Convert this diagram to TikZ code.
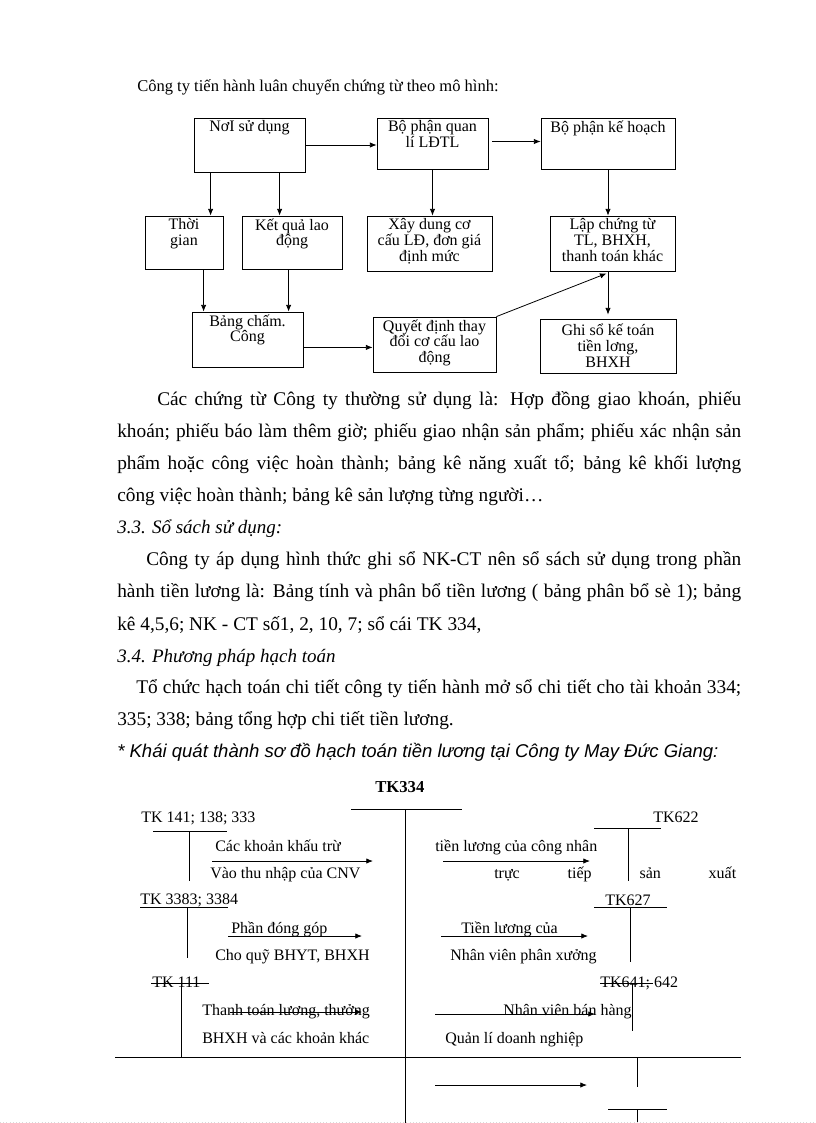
\documentclass[tikz,border=0pt]{standalone}
\usepackage{fontspec}
\setmainfont{Liberation Serif}
\newfontfamily\sansfont{Liberation Sans}
\usetikzlibrary{arrows.meta, calc, fit}

\tikzset{
  flowbox/.style={draw, line width=0.6pt, inner sep=0pt},
  boxtext/.style={font=\fontsize{12}{11.8}\selectfont, align=center, inner sep=0pt, anchor=north},
  bodytext/.style={font=\fontsize{14.5}{17}\selectfont, anchor=base west, inner sep=0pt},
  acctext/.style={font=\fontsize{12}{14}\selectfont, anchor=base west, inner sep=0pt},
  flow/.style={-{Latex[length=5pt,width=4pt]}, line width=0.6pt},
  tacc/.style={line width=0.6pt}
}
\newcommand{\fullline}[2]{\makebox[#1][s]{#2}}

\begin{document}
\begin{tikzpicture}[x=0.75pt, y=-0.75pt]
\useasboundingbox (0,0) rectangle (816,1123);

\node[bodytext, font=\fontsize{12.4}{15}\selectfont] (intro) at (137,92) {Công ty tiến hành luân chuyển chứng từ theo mô hình:};

% flow chart
\node[flowbox, fit={(194,118) (305,172)}] (noi) {};
\node[flowbox, fit={(377,118) (488,169)}] (quan) {};
\node[flowbox, fit={(541,118) (675,169)}] (kh) {};
\node[flowbox, fit={(145,216) (223,269)}] (thoi) {};
\node[flowbox, fit={(242,216) (342,269)}] (kq) {};
\node[flowbox, fit={(367,216) (492,271)}] (xd) {};
\node[flowbox, fit={(550,216) (675,271)}] (lap) {};
\node[flowbox, fit={(192,312) (303,367)}] (bang) {};
\node[flowbox, fit={(373,317) (496,372)}] (qd) {};
\node[flowbox, fit={(540,319) (676,373)}] (ghi) {};

\node[boxtext] (noi-t) at ([yshift=-2pt]noi.north) {NơI sử dụng};
\node[boxtext] (quan-t) at ([yshift=-2pt]quan.north) {Bộ phận quan\\lí LĐTL};
\node[boxtext] (kh-t) at ([yshift=-2pt]kh.north) {Bộ phận kế hoạch};
\node[boxtext] (thoi-t) at ([yshift=-2pt]thoi.north) {Thời\\gian};
\node[boxtext] (kq-t) at ([yshift=-2pt]kq.north) {Kết quả lao\\động};
\node[boxtext] (xd-t) at ([yshift=-2pt]xd.north) {Xây dung cơ\\cấu LĐ, đơn giá\\định mức};
\node[boxtext] (lap-t) at ([yshift=-2pt]lap.north) {Lập chứng từ\\TL, BHXH,\\thanh toán khác};
\node[boxtext] (bang-t) at ([yshift=-2pt]bang.north) {Bảng chấm.\\Công};
\node[boxtext] (qd-t) at ([yshift=-2pt]qd.north) {Quyết định thay\\đổi cơ cấu lao\\động};
\node[boxtext] (ghi-t) at ([yshift=-4pt]ghi.north) {Ghi sổ kế toán\\tiền lơng,\\BHXH};

\draw[flow] (noi.east) -- (noi.east -| quan.west);
\draw[flow] ($(quan.east)+(4,-2)$) -- ($(kh.west)+(0,-2)$);
\draw[flow] ($(noi.south west)+(17,0)$) -- ($(thoi.north west)+(66,0)$);
\draw[flow] ($(noi.south west)+(86,0)$) -- ($(kq.north west)+(38,0)$);
\draw[flow] (quan.south) -- (quan.south |- xd.north);
\draw[flow] (kh.south) -- (kh.south |- lap.north);
\draw[flow] ($(thoi.south west)+(59,0)$) -- ($(bang.north west)+(12,0)$);
\draw[flow] ($(kq.south west)+(47,0)$) -- ($(bang.north west)+(97,0)$);
\draw[flow] ($(bang.south east)+(0,-20)$) -- ($(qd.south west)+(0,-25)$);
\draw[flow] (qd.north east) -- ($(lap.south west)+(57,2)$);
\draw[flow] (lap.south -| ghi.north) -- ($(ghi.north)+(0,-4)$);

% text
\node[bodytext] (p1a) at (157,405) {\fullline{438pt}{Các chứng từ Công ty thường sử dụng là: Hợp đồng giao khoán, phiếu}};
\node[bodytext] (p1b) at (117,437) {\fullline{468pt}{khoán; phiếu báo làm thêm giờ; phiếu giao nhận sản phẩm; phiếu xác nhận sản}};
\node[bodytext] (p1c) at (117,469) {\fullline{468pt}{phẩm hoặc công việc hoàn thành; bảng kê năng xuất tổ; bảng kê khối lượng}};
\node[bodytext] (p1d) at (117,501) {công việc hoàn thành; bảng kê sản lượng từng người…};
\node[bodytext, font=\fontsize{14.25}{17}\selectfont\itshape] (h33) at (117,533) {3.3. Sổ sách sử dụng:};
\node[bodytext] (p2a) at (146,565) {\fullline{446.25pt}{Công ty áp dụng hình thức ghi sổ NK-CT nên sổ sách sử dụng trong phần}};
\node[bodytext] (p2b) at (117,597) {\fullline{468pt}{hành tiền lương là: Bảng tính và phân bổ tiền lương ( bảng phân bổ sè 1); bảng}};
\node[bodytext] (p2c) at (117,630) {kê 4,5,6; NK - CT số1, 2, 10, 7; sổ cái TK 334,};
\node[bodytext, font=\fontsize{14.25}{17}\selectfont\itshape] (h34) at (117,662) {3.4. Phương pháp hạch toán};
\node[bodytext] (p3a) at (136,693) {\fullline{453.75pt}{Tổ chức hạch toán chi tiết công ty tiến hành mở sổ chi tiết cho tài khoản 334;}};
\node[bodytext] (p3b) at (117,725) {335; 338; bảng tổng hợp chi tiết tiền lương.};
\node[bodytext, font=\fontsize{13.9}{17}\sansfont\itshape] (star) at (117,757) {* Khái quát thành sơ đồ hạch toán tiền lương tại Công ty May Đức Giang:};

% T accounts
\node[acctext, font=\fontsize{12.5}{14}\selectfont\bfseries] (tk334) at (375,792) {TK334};
\draw[tacc] (351,809) -- (462,809);
\draw[tacc] (405,809) -- (405,1123);
\draw[tacc] (115,1057) -- (741,1057);

\node[acctext] (tk141) at (141,822) {TK 141; 138; 333};
\draw[tacc] (153,831) -- (227,831);
\draw[tacc] (189,831) -- (189,881);
\node[acctext] (khautru) at (215,851) {Các khoản khấu trừ};
\draw[flow] (212,861) -- (373,861);
\node[acctext] (vaothu) at (210,878) {Vào thu nhập của CNV};

\node[acctext] (tk3383) at (140,904) {TK 3383; 3384};
\draw[tacc] (140,907) -- (228,907);
\draw[tacc] (187,907) -- (187,958);
\node[acctext] (donggop) at (231,933) {Phần đóng góp};
\draw[flow] (228,936) -- (362,936);
\node[acctext] (choquy) at (215,960) {Cho quỹ BHYT, BHXH};

\node[acctext] (tk111) at (152,987) {TK 111};
\draw[tacc] (151,983) -- (209,983);
\draw[tacc] (181,983) -- (181,1057);
\node[acctext] (thanhtoan) at (202,1015) {Thanh toán lương, thưởng};
\draw[flow] (230,1012) -- (362,1012);
\node[acctext] (bhxh) at (202,1043) {BHXH và các khoản khác};

\node[acctext] (tienluong) at (435,851) {tiền lương của công nhân};
\draw[flow] (443,861) -- (590,861);
\node[acctext] (tructiep) at (494,878) {\fullline{181.5pt}{trực tiếp sản xuất}};
\node[acctext] (tk622) at (653,822) {TK622};
\draw[tacc] (594,828) -- (661,828);
\draw[tacc] (628,828) -- (628,881);

\node[acctext] (tk627) at (605,905) {TK627};
\draw[tacc] (594,907) -- (667,907);
\draw[tacc] (630,907) -- (630,962);
\node[acctext] (tienluong2) at (461,933) {Tiền lương của};
\draw[flow] (441,936) -- (588,936);
\node[acctext] (phanxuong) at (450,960) {Nhân viên phân xưởng};

\node[acctext] (tk641) at (600,987) {TK641; 642};
\draw[tacc] (600,983) -- (653,983);
\draw[tacc] (632,983) -- (632,1031);
\node[acctext] (banhang) at (503,1015) {Nhân viên bán hàng};
\draw[flow] (435,1014) -- (595,1014);
\node[acctext] (qldn) at (445,1043) {Quản lí doanh nghiệp};

\draw[tacc] (637,1057) -- (637,1087);
\draw[flow] (435,1085) -- (587,1085);
\draw[tacc] (608,1109) -- (667,1109);
\draw[tacc] (637,1109) -- (637,1123);
\draw[black!15, dotted] (0,1122) -- (816,1122);
\end{tikzpicture}
\end{document}
